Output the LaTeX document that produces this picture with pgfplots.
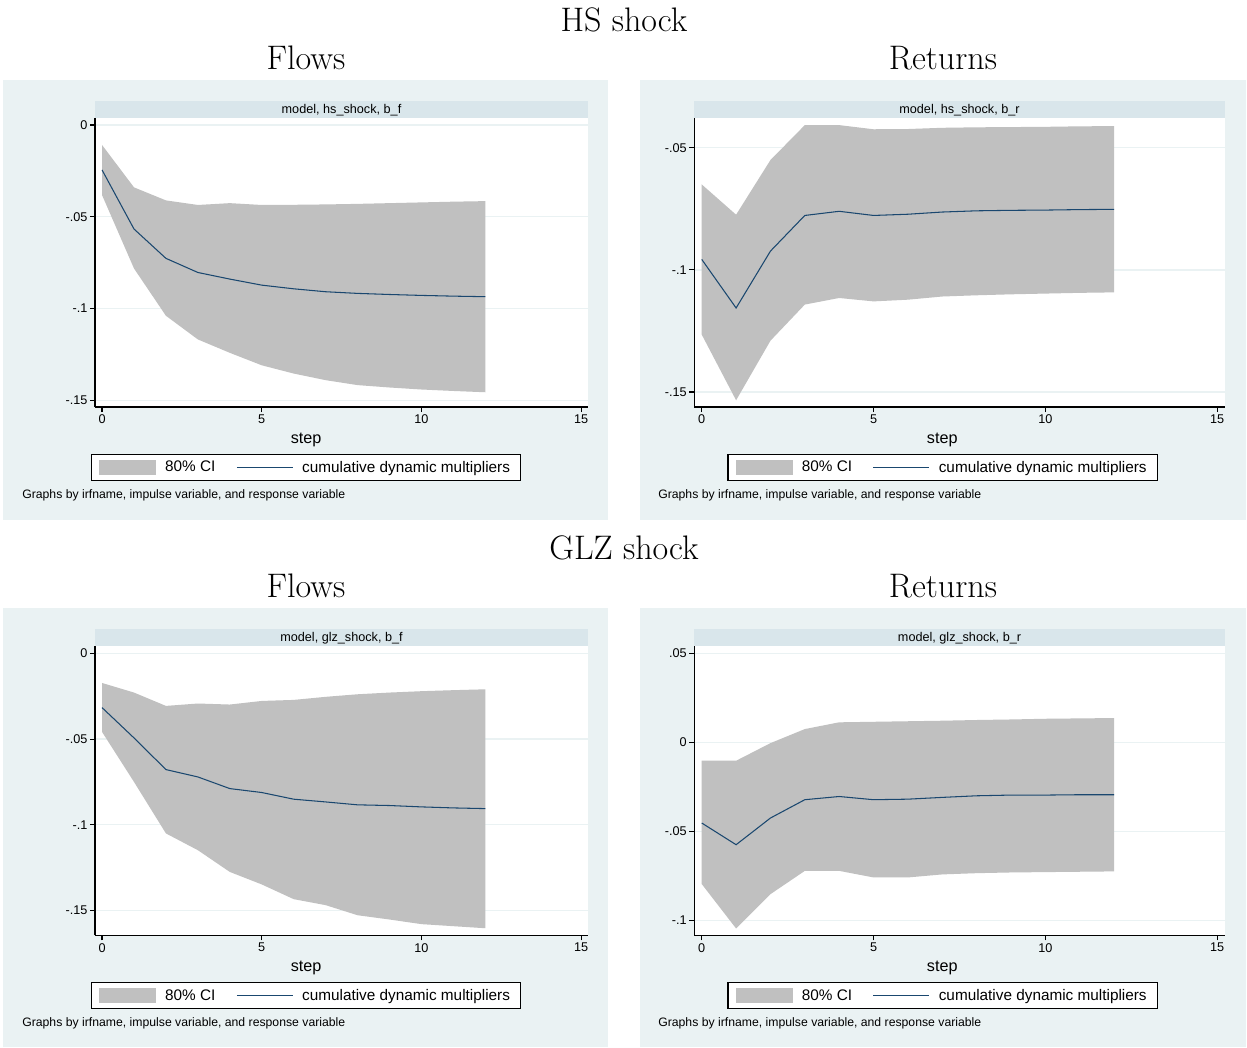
\documentclass[border=0pt]{standalone}
\usepackage{fontspec}
\newfontfamily\arial{Liberation Sans}
\usepackage{pgfplots}
\pgfplotsset{compat=1.18}
\usepackage{pgfplotstable}

\definecolor{bgcol}{RGB}{234,242,243}
\definecolor{stripcol}{RGB}{217,230,235}
\definecolor{bandcol}{RGB}{192,192,192}
\definecolor{linecol}{RGB}{26,71,111}
\definecolor{gridcol}{RGB}{234,242,243}

\pgfplotstableread{
step irf lo up
0 -0.0245 -0.0382 -0.0109
1 -0.0567 -0.0782 -0.0340
2 -0.0727 -0.1040 -0.0411
3 -0.0804 -0.1169 -0.0436
4 -0.0840 -0.1242 -0.0426
5 -0.0873 -0.1310 -0.0436
6 -0.0893 -0.1355 -0.0435
7 -0.0909 -0.1391 -0.0433
8 -0.0918 -0.1418 -0.0430
9 -0.0924 -0.1431 -0.0426
10 -0.0929 -0.1442 -0.0422
11 -0.0933 -0.1450 -0.0418
12 -0.0936 -0.1457 -0.0415
}\hsflows

\pgfplotstableread{
step irf lo up
0 -0.0957 -0.1265 -0.0650
1 -0.1156 -0.1534 -0.0774
2 -0.0923 -0.1290 -0.0550
3 -0.0777 -0.1142 -0.0407
4 -0.0760 -0.1115 -0.0407
5 -0.0777 -0.1129 -0.0424
6 -0.0772 -0.1122 -0.0423
7 -0.0763 -0.1109 -0.0418
8 -0.0758 -0.1104 -0.0416
9 -0.0756 -0.1100 -0.0415
10 -0.0755 -0.1097 -0.0414
11 -0.0753 -0.1094 -0.0412
12 -0.0752 -0.1092 -0.0411
}\hsreturns

\pgfplotstableread{
step irf lo up
0 -0.0316 -0.0458 -0.0172
1 -0.0493 -0.0750 -0.0228
2 -0.0678 -0.1051 -0.0306
3 -0.0721 -0.1149 -0.0292
4 -0.0789 -0.1276 -0.0298
5 -0.0812 -0.1349 -0.0277
6 -0.0851 -0.1435 -0.0271
7 -0.0867 -0.1470 -0.0253
8 -0.0884 -0.1529 -0.0238
9 -0.0888 -0.1554 -0.0228
10 -0.0896 -0.1581 -0.0220
11 -0.0902 -0.1593 -0.0214
12 -0.0906 -0.1605 -0.0209
}\glzflows

\pgfplotstableread{
step irf lo up
0 -0.0453 -0.0796 -0.0103
1 -0.0575 -0.1046 -0.0103
2 -0.0425 -0.0853 -0.0004
3 -0.0322 -0.0722 0.0075
4 -0.0304 -0.0722 0.0113
5 -0.0322 -0.0759 0.0116
6 -0.0319 -0.0759 0.0119
7 -0.0309 -0.0742 0.0122
8 -0.0300 -0.0735 0.0126
9 -0.0296 -0.0731 0.0129
10 -0.0296 -0.0729 0.0133
11 -0.0294 -0.0727 0.0135
12 -0.0294 -0.0725 0.0137
}\glzreturns

\pgfplotsset{
  stata/.style={
    scale only axis,
    height=7.225cm,
    axis background/.style={fill=white},
    axis x line*=bottom, axis y line*=left,
    axis line style={-, black, line width=0.9pt},
    xmin=-0.22,
    xtick={0,5,10,15}, xticklabels={0,5,10,15},
    tick align=outside, major tick length=0.125cm,
    tick style={black, line width=0.8pt},
    ymajorgrids, grid style={gridcol, line width=0.9pt},
    ticklabel style={font=\arial\fontsize{9}{10}\selectfont},
    yticklabel style={xshift=0.06cm},
    xticklabel style={yshift=0.05cm},
    xlabel={step},
    xlabel style={font=\arial\fontsize{11.5}{13}\selectfont, anchor=center},
    legend columns=2,
    legend style={draw=black, line width=0.8pt, fill=white,
      font=\arial\fontsize{10.9}{12}\selectfont, anchor=north,
      inner xsep=0.2cm, inner ysep=0.09cm,
      /tikz/every odd column/.append style={column sep=0.15cm},
      /tikz/every even column/.append style={column sep=0.45cm}},
    legend cell align=left,
  },
  band/.style={fill=bandcol, draw=none, area legend,
    legend image code/.code={\fill[fill=bandcol, draw=none] (0cm,-0.19cm) rectangle (1.425cm,0.19cm);}},
  irfline/.style={linecol, line width=0.75pt,
    legend image code/.code={\draw[draw=linecol, line width=0.75pt] (0cm,0cm) -- (1.4cm,0cm);}},
}

\newcommand{\panel}[1]{%
  \addplot[draw=none, forget plot, stack plots=y] table[x=step, y=lo] {#1};
  \addplot[band, stack plots=y] table[x=step, y expr=\thisrow{up}-\thisrow{lo}] {#1} \closedcycle;
  \addplot[irfline, stack plots=false] table[x=step, y=irf] {#1};
  \legend{80\% CI, cumulative dynamic multipliers}
}

\begin{document}
\begin{tikzpicture}
\begin{scope}[x=0.025cm,y=-0.025cm]
\fill[white] (0,0) rectangle (1247,1047);
\fill[bgcol] (3,80) rectangle (608,520);
\fill[bgcol] (640,80) rectangle (1246,520);
\fill[bgcol] (3,608) rectangle (608,1047);
\fill[bgcol] (640,608) rectangle (1246,1047);
\fill[stripcol] (95,101) rectangle (588,118);
\fill[stripcol] (694,101) rectangle (1225,118);
\fill[stripcol] (95,629) rectangle (588,646);
\fill[stripcol] (694,629) rectangle (1225,646);
\node[anchor=base, font=\fontsize{24.2}{28}\selectfont, inner sep=0] at (624,31) {HS shock};
\node[anchor=base, font=\fontsize{24.2}{28}\selectfont, inner sep=0] at (306,69) {Flows};
\node[anchor=base, font=\fontsize{24.2}{28}\selectfont, inner sep=0] at (943,69) {Returns};
\node[anchor=base, font=\fontsize{24.2}{28}\selectfont, inner sep=0] at (624,559) {GLZ shock};
\node[anchor=base, font=\fontsize{24.2}{28}\selectfont, inner sep=0] at (306,597) {Flows};
\node[anchor=base, font=\fontsize{24.2}{28}\selectfont, inner sep=0] at (943,597) {Returns};
\node[anchor=base, font=\arial\fontsize{9}{10}\selectfont, inner sep=0] at (341.5,113) {model, hs\_shock, b\_f};
\node[anchor=base, font=\arial\fontsize{9}{10}\selectfont, inner sep=0] at (959.5,113) {model, hs\_shock, b\_r};
\node[anchor=base, font=\arial\fontsize{9}{10}\selectfont, inner sep=0] at (341.5,641) {model, glz\_shock, b\_f};
\node[anchor=base, font=\arial\fontsize{9}{10}\selectfont, inner sep=0] at (959.5,641) {model, glz\_shock, b\_r};
\node[anchor=base west, font=\arial\fontsize{8.7}{10}\selectfont, inner sep=0] at (22,498) {Graphs by irfname, impulse variable, and response variable};
\node[anchor=base west, font=\arial\fontsize{8.7}{10}\selectfont, inner sep=0] at (658,498) {Graphs by irfname, impulse variable, and response variable};
\node[anchor=base west, font=\arial\fontsize{8.7}{10}\selectfont, inner sep=0] at (22,1026) {Graphs by irfname, impulse variable, and response variable};
\node[anchor=base west, font=\arial\fontsize{8.7}{10}\selectfont, inner sep=0] at (658,1026) {Graphs by irfname, impulse variable, and response variable};
\end{scope}

% Top left: HS shock, flows
\begin{axis}[stata, at={(2.375cm,-10.175cm)}, anchor=south west,
  width=12.325cm, xmax=15.22, ymin=-0.1538, ymax=0.0038,
  ytick={-0.15,-0.1,-0.05,0}, yticklabels={-.15,-.1,-.05,0},
  xlabel style={at={(axis description cs:0.428,-0.114)}},
  legend style={at={(axis description cs:0.428,-0.1626)}}]
\panel{\hsflows}
\end{axis}

% Top right: HS shock, returns
\begin{axis}[stata, at={(17.35cm,-10.175cm)}, anchor=south west,
  width=13.275cm, xmax=15.24, ymin=-0.1562, ymax=-0.0378,
  ytick={-0.15,-0.1,-0.05}, yticklabels={-.15,-.1,-.05},
  xlabel style={at={(axis description cs:0.467,-0.114)}},
  legend style={at={(axis description cs:0.468,-0.1626)}}]
\panel{\hsreturns}
\end{axis}

% Bottom left: GLZ shock, flows
\begin{axis}[stata, at={(2.375cm,-23.375cm)}, anchor=south west,
  width=12.325cm, xmax=15.22, ymin=-0.1646, ymax=0.0043,
  ytick={-0.15,-0.1,-0.05,0}, yticklabels={-.15,-.1,-.05,0},
  xlabel style={at={(axis description cs:0.428,-0.114)}},
  legend style={at={(axis description cs:0.428,-0.1626)}}]
\panel{\glzflows}
\end{axis}

% Bottom right: GLZ shock, returns
\begin{axis}[stata, at={(17.35cm,-23.375cm)}, anchor=south west,
  width=13.275cm, xmax=15.24, ymin=-0.1084, ymax=0.0541,
  ytick={-0.1,-0.05,0,0.05}, yticklabels={-.1,-.05,0,.05},
  xlabel style={at={(axis description cs:0.467,-0.114)}},
  legend style={at={(axis description cs:0.468,-0.1626)}}]
\panel{\glzreturns}
\end{axis}
\end{tikzpicture}
\end{document}
